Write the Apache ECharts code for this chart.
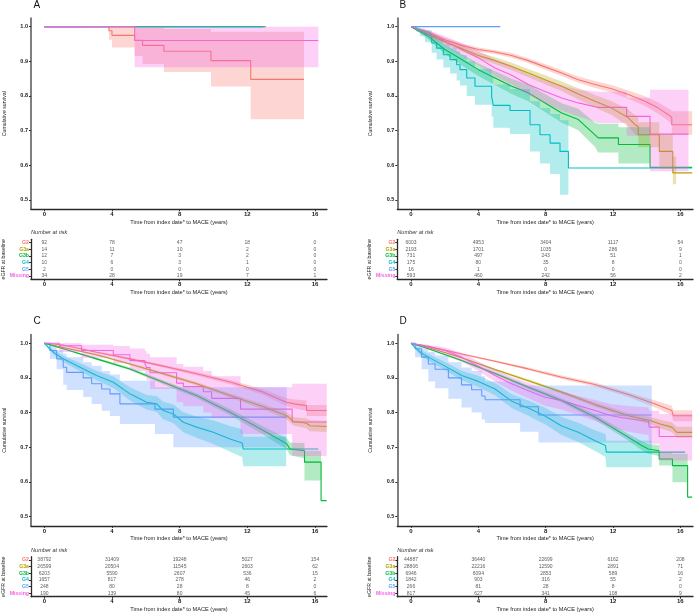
<!DOCTYPE html>
<html><head><meta charset="utf-8">
<script src="https://cdn.jsdelivr.net/npm/echarts@6/dist/echarts.min.js"></script>
<style>html,body{margin:0;padding:0;background:#fff}#c{width:694px;height:612px}</style>
</head><body><div id="c"></div>
<script>
const groups = ['G2','G3a','G3b','G4','G5','Missing'];
const colors = ['#F8766D','#B79F00','#00BA38','#00BFC4','#619CFF','#F564E3'];
const xTicks = [0,4,8,12,16];
const yTicks = [0.5,0.6,0.7,0.8,0.9,1.0];
const xTitle = 'Time from index date* to MACE (years)';

// rows: [time, survival, lower CI, upper CI]
const A_G2 = [[0,1,1,1],[3.82,0.988,0.962,1.0],[4.0,0.975,0.94,1.0],[5.34,0.961,0.915,0.998],[5.81,0.946,0.892,0.998],[7.07,0.929,0.869,0.993],[9.85,0.902,0.827,0.985],[12.2,0.848,0.733,0.985],[15.35,0.848,0.733,0.985]];
const A_G3a = [[0,1,1,1],[13.1,1,1,1]];
const A_G3b = [[0,1,1,1],[12.9,1,1,1]];
const A_G4 = [[0,1,1,1],[13.0,1,1,1]];
const A_G5 = [[0,1,1,1],[2.5,1,1,1]];
const A_Miss = [[0,1,1,1],[5.34,0.96,0.883,1.0],[16.2,0.96,0.883,1.0]];
const A_mode = ['step','step','step','step','step','step'];
const A_risk = [[92,78,47,18,0],[14,11,10,2,0],[12,7,3,2,0],[10,6,3,1,0],[2,0,0,0,0],[34,28,19,7,1]];

const B_G2 = [[0,1,1,1],[1.0,0.985,0.981,0.989],[2.02,0.9625,0.957,0.968],[3.01,0.946,0.94,0.952],[4.0,0.934,0.928,0.94],[4.99,0.927,0.921,0.933],[5.98,0.917,0.91,0.924],[6.97,0.902,0.895,0.909],[7.96,0.884,0.876,0.892],[8.95,0.866,0.858,0.874],[9.94,0.847,0.838,0.856],[10.93,0.833,0.823,0.843],[11.92,0.821,0.81,0.832],[12.91,0.804,0.792,0.816],[13.9,0.785,0.771,0.799],[14.69,0.765,0.749,0.781],[15.29,0.746,0.728,0.764],[15.49,0.738,0.718,0.758],[15.49,0.717,0.688,0.756],[16.7,0.717,0.688,0.756]];
const B_G3a = [[0,1,1,1],[1.0,0.978,0.973,0.983],[2.02,0.956,0.949,0.963],[3.01,0.937,0.929,0.945],[4.0,0.917,0.908,0.926],[4.99,0.902,0.892,0.912],[5.98,0.885,0.874,0.896],[6.97,0.866,0.854,0.878],[7.96,0.847,0.834,0.86],[8.95,0.828,0.814,0.842],[9.94,0.806,0.79,0.822],[10.93,0.785,0.767,0.803],[11.92,0.765,0.745,0.785],[12.91,0.737,0.713,0.761],[13.31,0.717,0.69,0.744],[13.5,0.712,0.684,0.74],[13.5,0.688,0.652,0.724],[14.75,0.688,0.652,0.724],[14.75,0.64,0.59,0.69],[15.55,0.64,0.59,0.69],[15.55,0.578,0.545,0.625],[15.75,0.578,0.545,0.625],[16.7,0.578,null,null]];
const B_G3b = [[0,1,1,1],[1.03,0.972,0.964,0.98],[2.02,0.934,0.921,0.947],[3.01,0.905,0.889,0.921],[4.0,0.876,0.858,0.894],[4.99,0.852,0.832,0.872],[5.98,0.828,0.806,0.85],[6.97,0.809,0.785,0.833],[7.96,0.78,0.754,0.806],[8.95,0.751,0.723,0.779],[9.94,0.732,0.701,0.763],[10.93,0.688,0.653,0.723],[11.12,0.679,0.637,0.72],[12.32,0.679,0.637,0.72],[12.32,0.66,0.605,0.71],[14.2,0.66,0.605,0.71],[14.2,0.594,null,null],[16.7,0.594,null,null]];
const B_G4 = [[0,1,1,1],[0.3,0.992,0.985,0.998],[0.55,0.985,0.972,0.995],[0.83,0.977,0.955,0.99],[1.23,0.953,0.925,0.975],[1.52,0.938,0.905,0.965],[1.92,0.919,0.882,0.95],[2.32,0.905,0.865,0.94],[2.71,0.89,0.845,0.93],[2.91,0.876,0.83,0.918],[3.31,0.852,0.8,0.9],[3.8,0.828,0.775,0.878],[4.79,0.799,0.74,0.855],[4.89,0.773,0.708,0.833],[5.88,0.758,0.69,0.82],[7.07,0.717,0.64,0.785],[7.66,0.688,0.605,0.765],[8.26,0.664,0.575,0.748],[8.85,0.64,0.515,0.73],[9.35,0.592,0.515,0.73],[16.7,0.592,null,null]];
const B_G5 = [[0,1,1,1],[5.3,1,1,1]];
const B_Miss = [[0,1,1,1],[1.03,0.982,0.972,0.99],[2.02,0.958,0.943,0.972],[3.01,0.934,0.916,0.952],[4.0,0.91,0.889,0.931],[4.99,0.881,0.857,0.905],[5.98,0.86,0.833,0.887],[6.97,0.833,0.803,0.863],[7.96,0.813,0.78,0.846],[8.95,0.794,0.758,0.83],[9.94,0.78,0.741,0.819],[11.13,0.767,0.722,0.812],[12.81,0.767,0.722,0.812],[12.81,0.741,0.685,0.795],[14.2,0.741,0.685,0.795],[14.2,0.69,0.583,0.818],[16.48,0.69,0.583,0.818]];
const B_mode = ['line','line','line','step','line','line'];
const B_risk = [[6003,4953,3404,1117,54],[2193,1701,1035,286,9],[731,497,243,51,1],[175,80,35,8,0],[16,1,0,0,0],[593,460,242,56,2]];

const C_G2 = [[0,1,1,1],[1.12,0.995,0.994,0.996],[3.09,0.974,0.972,0.976],[5.06,0.955,0.952,0.958],[7.03,0.934,0.93,0.938],[9.0,0.912,0.907,0.917],[10.98,0.888,0.882,0.894],[12.95,0.859,0.851,0.867],[14.3,0.83,0.819,0.841],[14.8,0.825,0.812,0.838],[15.5,0.82,0.805,0.835],[15.5,0.806,0.79,0.822],[16.69,0.806,0.79,0.822]];
const C_G3a = [[0,1,1,1],[1.12,0.988,0.987,0.989],[3.09,0.967,0.965,0.969],[5.06,0.94,0.937,0.943],[7.03,0.912,0.908,0.916],[9.0,0.883,0.878,0.888],[10.98,0.849,0.843,0.855],[12.95,0.817,0.809,0.825],[14.33,0.791,0.781,0.801],[14.72,0.775,0.763,0.787],[15.5,0.769,0.755,0.783],[15.7,0.762,0.746,0.778],[16.69,0.76,0.744,0.776]];
const C_G3b = [[0,1,1,1],[1.12,0.984,0.983,0.985],[3.09,0.955,0.952,0.958],[5.06,0.926,0.922,0.93],[7.03,0.8875,0.882,0.893],[9.0,0.849,0.842,0.856],[10.98,0.801,0.792,0.81],[12.95,0.748,0.736,0.76],[14.33,0.71,0.694,0.726],[14.52,0.695,0.677,0.713],[15.38,0.69,0.668,0.712],[15.38,0.657,0.604,0.69],[16.36,0.657,0.604,0.69],[16.36,0.546,0.546,0.546],[16.69,0.546,null,null]];
const C_G4 = [[0,1,1,1],[0.3,0.985,0.98,0.99],[0.6,0.972,0.965,0.979],[1.12,0.955,0.946,0.964],[2.11,0.931,0.919,0.943],[3.09,0.907,0.893,0.921],[4.08,0.8875,0.871,0.904],[5.06,0.854,0.835,0.873],[6.05,0.83,0.809,0.851],[6.64,0.825,0.802,0.848],[7.03,0.806,0.781,0.831],[7.63,0.796,0.769,0.823],[8.22,0.772,0.743,0.801],[9.0,0.758,0.727,0.789],[9.99,0.743,0.709,0.777],[10.98,0.724,0.687,0.761],[11.7,0.712,0.672,0.752],[11.76,0.695,0.645,0.73],[14.3,0.695,0.645,0.73],[16.2,0.695,null,null]];
const C_G5 = [[0,1,1,1],[0.33,0.979,0.955,0.995],[0.73,0.955,0.925,0.98],[1.12,0.931,0.88,0.97],[1.32,0.916,0.865,0.96],[2.3,0.9,0.845,0.945],[2.8,0.883,0.825,0.935],[3.39,0.868,0.805,0.92],[3.88,0.854,0.79,0.91],[4.47,0.825,0.767,0.892],[6.54,0.81,0.738,0.873],[7.63,0.787,0.70,0.873],[14.33,0.787,0.70,0.873]];
const C_Miss = [[0,1,1,1],[0.89,0.993,0.975,1.0],[2.2,0.979,0.958,0.996],[4.08,0.967,0.942,0.992],[5.06,0.95,0.92,0.985],[5.95,0.94,0.905,0.978],[6.05,0.93,0.893,0.97],[6.25,0.915,0.868,0.96],[7.82,0.885,0.83,0.94],[8.22,0.875,0.818,0.932],[9.4,0.86,0.8,0.92],[9.89,0.841,0.785,0.905],[11.6,0.81,0.738,0.873],[14.65,0.773,0.675,0.883],[16.69,0.773,0.675,0.883]];
const C_mode = ['line','line','line','line','step','step'];
const C_risk = [[38792,31409,19248,5027,154],[26599,20504,11545,2603,62],[6203,5590,2607,536,15],[1657,817,278,46,2],[248,80,28,8,0],[190,139,80,45,6]];

const D_G2 = [[0,1,1,1],[1.03,0.991,0.99,0.992],[3.01,0.969,0.967,0.971],[4.99,0.948,0.945,0.951],[6.97,0.926,0.922,0.93],[8.95,0.902,0.897,0.907],[10.93,0.881,0.875,0.887],[12.91,0.852,0.845,0.859],[14.5,0.825,0.815,0.835],[15.49,0.806,0.792,0.82],[15.58,0.791,0.775,0.807],[16.7,0.791,0.775,0.807]];
const D_G3a = [[0,1,1,1],[1.03,0.988,0.987,0.989],[3.01,0.958,0.956,0.96],[4.99,0.924,0.921,0.927],[6.97,0.892,0.888,0.896],[8.95,0.859,0.854,0.864],[10.93,0.823,0.817,0.829],[12.91,0.791,0.783,0.799],[14.2,0.777,0.767,0.787],[14.8,0.767,0.755,0.779],[15.49,0.758,0.744,0.772],[15.8,0.743,0.727,0.759],[16.7,0.743,0.727,0.759]];
const D_G3b = [[0,1,1,1],[1.03,0.984,0.983,0.985],[3.01,0.95,0.947,0.953],[4.99,0.913,0.909,0.917],[6.97,0.873,0.868,0.878],[8.95,0.835,0.829,0.841],[10.93,0.787,0.779,0.795],[12.91,0.729,0.719,0.739],[13.7,0.705,0.692,0.718],[14.1,0.695,0.681,0.709],[14.74,0.69,0.674,0.706],[14.74,0.666,0.647,0.685],[15.53,0.666,0.647,0.685],[15.53,0.647,0.599,0.681],[16.43,0.647,0.599,0.681],[16.43,0.556,0.556,0.556],[16.7,0.556,null,null]];
const D_G4 = [[0,1,1,1],[0.3,0.985,0.979,0.991],[0.6,0.972,0.964,0.98],[1.03,0.96,0.95,0.97],[2.02,0.934,0.922,0.946],[3.01,0.907,0.893,0.921],[4.0,0.89,0.874,0.906],[4.99,0.868,0.85,0.886],[5.98,0.833,0.813,0.853],[6.97,0.813,0.791,0.835],[7.96,0.79,0.766,0.814],[8.95,0.761,0.735,0.787],[9.94,0.743,0.715,0.771],[10.93,0.719,0.689,0.749],[11.55,0.705,0.672,0.738],[11.6,0.686,0.642,0.719],[14.3,0.686,0.642,0.719],[16.28,0.686,null,null]];
const D_G5 = [[0,1,1,1],[0.24,0.984,0.96,0.998],[0.63,0.96,0.925,0.985],[1.03,0.94,0.89,0.975],[1.43,0.925,0.87,0.965],[2.22,0.9,0.84,0.945],[3.0,0.88,0.815,0.93],[3.6,0.866,0.8,0.92],[4.2,0.848,0.78,0.905],[4.4,0.837,0.77,0.89],[6.48,0.817,0.745,0.878],[7.57,0.793,0.714,0.878],[14.3,0.793,0.714,0.878]];
const D_Miss = [[0,1,1,1],[1.03,0.99,0.984,0.996],[2.02,0.979,0.97,0.988],[3.01,0.96,0.948,0.972],[4.0,0.934,0.92,0.948],[4.99,0.907,0.89,0.924],[5.98,0.883,0.863,0.903],[6.97,0.863,0.841,0.885],[7.96,0.844,0.82,0.868],[8.95,0.835,0.809,0.861],[9.94,0.82,0.792,0.848],[10.93,0.806,0.776,0.836],[11.92,0.791,0.758,0.824],[12.91,0.782,0.745,0.819],[14.1,0.775,0.735,0.815],[14.15,0.758,0.71,0.805],[14.74,0.758,0.71,0.805],[14.74,0.731,0.662,0.796],[16.7,0.731,0.662,0.796]];
const D_mode = ['line','line','line','line','step','line'];
const D_risk = [[44887,36440,22699,6162,208],[28806,22216,12590,2891,71],[6946,6094,2853,589,16],[1842,903,316,55,2],[266,81,28,8,0],[817,627,341,108,9]];

const panels = [
  {label:'A', curves:[A_G2,A_G3a,A_G3b,A_G4,A_G5,A_Miss], mode:A_mode, risk:A_risk},
  {label:'B', curves:[B_G2,B_G3a,B_G3b,B_G4,B_G5,B_Miss], mode:B_mode, risk:B_risk},
  {label:'C', curves:[C_G2,C_G3a,C_G3b,C_G4,C_G5,C_Miss], mode:C_mode, risk:C_risk},
  {label:'D', curves:[D_G2,D_G3a,D_G3b,D_G4,D_G5,D_Miss], mode:D_mode, risk:D_risk}
];
// layout (pixels)
const layout = [
  {left:31, width:296, top:18, xmin:-0.786, xmax:16.71, tTop:239.3, lx:37.5, ly:5},
  {left:397.3, width:295.7, top:18, xmin:-0.814, xmax:16.75, tTop:239.3, lx:403.5, ly:5},
  {left:31, width:296, top:334.6, xmin:-0.786, xmax:16.71, tTop:556.7, lx:37.5, ly:321},
  {left:397.3, width:295.7, top:334.6, xmin:-0.814, xmax:16.75, tTop:556.7, lx:403.5, ly:321}
];
const FONT = '"Liberation Sans", Arial, sans-serif';
const axisCol = '#2b2b2b';

function bandRenderer(rows, stepped, color) {
  return function (params, api) {
    if (params.dataIndex !== 0) return null;
    const up = [], lo = [];
    for (let i = 0; i < rows.length; i++) {
      const r = rows[i];
      up.push(api.coord([r[0], r[3]]));
      lo.push(api.coord([r[0], r[2]]));
      if (stepped && i < rows.length - 1) {
        up.push(api.coord([rows[i + 1][0], r[3]]));
        lo.push(api.coord([rows[i + 1][0], r[2]]));
      }
    }
    const pts = up.concat(lo.reverse());
    return {type:'polygon', shape:{points:pts}, style:{fill:color, opacity:0.3}, silent:true};
  };
}

const grid = [], xAxis = [], yAxis = [], series = [], graphic = [];
panels.forEach((p, pi) => {
  const L = layout[pi];
  const gPlot = grid.length;
  grid.push({left:L.left, top:L.top, width:L.width, height:191.3, outerBoundsMode:'none', containLabel:false});
  const gTab = grid.length;
  grid.push({left:L.left, top:L.tTop, width:L.width, height:40, outerBoundsMode:'none', containLabel:false});
  const xCommon = (gi) => ({
    gridIndex:gi, type:'value', min:L.xmin, max:L.xmax,
    axisLine:{show:true, onZero:false, lineStyle:{color:axisCol, width:1.3}},
    axisTick:{show:true, length:2, customValues:xTicks, lineStyle:{color:axisCol}},
    axisLabel:{customValues:xTicks, fontSize:6, fontWeight:'bold', color:'#222', margin:2, fontFamily:FONT},
    splitLine:{show:false},
    name:xTitle, nameLocation:'middle', nameGap:10,
    nameTextStyle:{fontSize:5.6, color:'#222', fontFamily:FONT}
  });
  xAxis.push(xCommon(gPlot));
  xAxis.push(xCommon(gTab));
  yAxis.push({
    gridIndex:gPlot, type:'value', min:0.473, max:1.025,
    axisLine:{show:true, onZero:false, lineStyle:{color:'#555', width:1.5}},
    axisTick:{show:true, length:2, customValues:yTicks, lineStyle:{color:axisCol}},
    axisLabel:{customValues:yTicks, formatter:v=>v.toFixed(1), fontSize:5.5, fontWeight:'bold', color:'#222', margin:3, fontFamily:FONT},
    splitLine:{show:false},
    name:'Cumulative survival', nameLocation:'middle', nameGap:24,
    nameTextStyle:{fontSize:5.2, color:'#222', fontFamily:FONT}
  });
  yAxis.push({
    gridIndex:gTab, type:'category', data:groups, inverse:true,
    axisLine:{show:true, onZero:false, lineStyle:{color:axisCol, width:1.3}},
    axisTick:{show:true, length:2, alignWithLabel:true, lineStyle:{color:axisCol}},
    axisLabel:{interval:0, fontSize:5.2, fontWeight:'bold', margin:2, fontFamily:FONT, color:(v,i)=>colors[i]},
    name:'eGFR at baseline', nameLocation:'middle', nameGap:24,
    nameTextStyle:{fontSize:5.2, color:'#222', fontFamily:FONT}
  });
  const xi = gPlot, yi = gPlot;
  // survival lines
  p.curves.forEach((rows, gi) => {
    const stepMode = p.mode[gi] === 'step' ? 'end' : false;
    series.push({
      type:'line', xAxisIndex:xi, yAxisIndex:yi, data:rows.map(r=>[r[0], r[1]]),
      step:stepMode, symbol:'none', silent:true, z:2,
      lineStyle:{color:colors[gi], width:1.1}, itemStyle:{color:colors[gi]}
    });
  });
  // confidence bands
  p.curves.forEach((rows, gi) => {
    const b = rows.filter(r => r[2] != null);
    if (b.every(r => r[2] === r[3])) return;
    series.push({
      type:'custom', xAxisIndex:xi, yAxisIndex:yi, coordinateSystem:'cartesian2d', z:3, silent:true,
      data:b.map(r => [r[0], r[2], r[3]]), encode:{x:0, y:[1,2]},
      renderItem:bandRenderer(b, p.mode[gi] === 'step', colors[gi])
    });
  });
  // risk table
  groups.forEach((g, gi) => {
    series.push({
      type:'scatter', xAxisIndex:gTab, yAxisIndex:gTab, symbolSize:1, silent:true,
      itemStyle:{color:'rgba(0,0,0,0)'},
      data:xTicks.map((t, k) => [t, g, p.risk[gi][k]]),
      label:{show:true, position:'inside', formatter:o=>String(o.data[2]), fontSize:5, color:'#333', fontFamily:FONT}
    });
  });
  graphic.push({type:'text', left:L.lx - 4, top:L.ly - 5, style:{text:p.label, fontSize:10, fill:'#111', fontFamily:FONT}});
  graphic.push({type:'text', left:L.left, top:L.tTop - 9.5, style:{text:'Number at risk', fontSize:5.6, fontStyle:'italic', fill:'#333', fontFamily:FONT}});
});

const chart = echarts.init(document.getElementById('c'), null, {renderer:'canvas'});
chart.setOption({animation:false, backgroundColor:'#fff', grid, xAxis, yAxis, series, graphic});
</script></body></html>
